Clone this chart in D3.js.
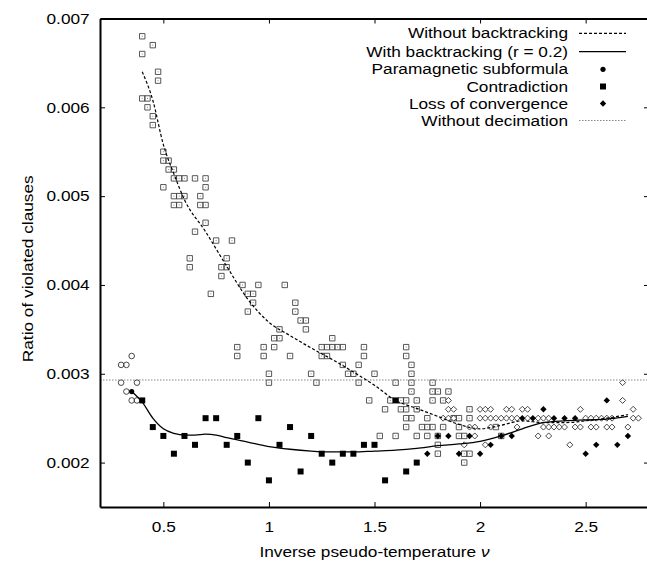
<!DOCTYPE html>
<html>
<head>
<meta charset="utf-8">
<script src="https://cdn.jsdelivr.net/npm/d3@7"></script>
<style>
body { margin: 0; background: #fff; }
text { font-family: "Liberation Sans", Arial, sans-serif; fill: #000; }
</style>
</head>
<body>
<div id="chart"></div>
<script>
// axis ticks
const xTicks = [0.5, 1, 1.5, 2, 2.5];
const yTicks = [0.002, 0.003, 0.004, 0.005, 0.006, 0.007];

const legendLabels = ['Without backtracking', 'With backtracking (r = 0.2)', 'Paramagnetic subformula',
    'Contradiction', 'Loss of convergence', 'Without decimation'];

// runs without backtracking (open markers)
const paraNoBT = [[0.3, 0.0031], [0.325, 0.0031], [0.35, 0.0032], [0.3, 0.0029], [0.375, 0.0029],
    [0.325, 0.0028], [0.35, 0.0027], [0.375, 0.0027]];

const contrNoBT = [
    [0.4, 0.0068], [0.45, 0.0067], [0.4, 0.0066], [0.475, 0.0064], [0.475, 0.0063],
    [0.4, 0.0061], [0.425, 0.0061], [0.425, 0.0060], [0.45, 0.0059], [0.45, 0.0058],
    [0.5, 0.0055], [0.5, 0.0054], [0.525, 0.0054], [0.525, 0.0053], [0.55, 0.0053],
    [0.55, 0.0052], [0.575, 0.0052], [0.6, 0.0052], [0.65, 0.0052], [0.7, 0.0052],
    [0.5, 0.0051], [0.7, 0.0051],
    [0.55, 0.0050], [0.575, 0.0050], [0.6, 0.0050], [0.675, 0.0050],
    [0.55, 0.0049], [0.575, 0.0049], [0.675, 0.0049], [0.7, 0.0049],
    [0.7, 0.0047], [0.65, 0.0046], [0.75, 0.0045], [0.825, 0.0045],
    [0.625, 0.0043], [0.8, 0.0043], [0.625, 0.0042], [0.775, 0.0042], [0.8, 0.0042], [0.775, 0.0041],
    [0.875, 0.0040], [0.95, 0.0040], [1.075, 0.0040],
    [0.725, 0.0039], [0.9, 0.0039], [0.925, 0.0039], [0.925, 0.0038], [1.125, 0.0038],
    [0.9, 0.0037], [1.125, 0.0037], [1.15, 0.0036], [1.175, 0.0036], [1.05, 0.0035], [1.175, 0.0035],
    [1.025, 0.0034], [1.05, 0.0034], [1.3, 0.0034],
    [0.85, 0.0033], [0.975, 0.0033], [1.025, 0.0033], [1.25, 0.0033], [1.275, 0.0033], [1.3, 0.0033],
    [1.325, 0.0033], [1.35, 0.0033], [1.45, 0.0033], [1.65, 0.0033],
    [0.85, 0.0032], [0.975, 0.0032], [1.1, 0.0032], [1.25, 0.0032], [1.275, 0.0032], [1.45, 0.0032], [1.65, 0.0032],
    [1.35, 0.0031], [1.425, 0.0031], [1.675, 0.0031],
    [1.0, 0.0030], [1.2, 0.0030], [1.375, 0.0030], [1.4, 0.0030], [1.5, 0.0030], [1.675, 0.0030],
    [1.0, 0.0029], [1.225, 0.0029], [1.425, 0.0029], [1.6, 0.0029], [1.675, 0.0029], [1.775, 0.0029],
    [1.675, 0.0028], [1.775, 0.0028], [1.8, 0.0028], [1.85, 0.0028],
    [1.475, 0.0027], [1.575, 0.0027], [1.625, 0.0027], [1.65, 0.0027], [1.7, 0.0027], [1.775, 0.0027], [1.825, 0.0027],
    [1.55, 0.0026], [1.625, 0.0026], [1.65, 0.0026], [1.7, 0.0026], [1.95, 0.0026],
    [1.65, 0.0025], [1.675, 0.0025], [1.75, 0.0025], [1.875, 0.0025], [1.9, 0.0025], [1.95, 0.0025],
    [1.65, 0.0024], [1.725, 0.0024], [1.75, 0.0024], [1.775, 0.0024], [1.825, 0.0024], [1.9, 0.0024], [2.075, 0.0024],
    [1.525, 0.0023], [1.6, 0.0023], [1.7, 0.0023], [1.75, 0.0023], [1.8, 0.0023], [1.9, 0.0023], [1.925, 0.0023], [2.1, 0.0023],
    [1.8, 0.0022], [1.8, 0.0021], [1.925, 0.0021], [1.95, 0.0021], [1.925, 0.0020]
];

const lossNoBT = [
    [2.675, 0.0029], [1.85, 0.0027], [2.675, 0.0027],
    [1.85, 0.0026], [1.875, 0.0026], [2.0, 0.0026], [2.025, 0.0026], [2.05, 0.0026], [2.125, 0.0026],
    [2.15, 0.0026], [2.2, 0.0026], [2.225, 0.0026], [2.475, 0.0026], [2.725, 0.0026],
    [1.825, 0.0025], [1.85, 0.0025], [1.875, 0.0025], [2.0, 0.0025], [2.025, 0.0025], [2.05, 0.0025],
    [2.075, 0.0025], [2.1, 0.0025], [2.125, 0.0025], [2.15, 0.0025], [2.175, 0.0025], [2.225, 0.0025],
    [2.275, 0.0025], [2.3, 0.0025], [2.325, 0.0025], [2.5, 0.0025], [2.525, 0.0025], [2.55, 0.0025],
    [2.575, 0.0025], [2.6, 0.0025], [2.625, 0.0025], [2.725, 0.0025], [2.75, 0.0025],
    [1.95, 0.0024], [1.975, 0.0024], [2.05, 0.0024], [2.175, 0.0024], [2.3, 0.0024], [2.325, 0.0024],
    [2.35, 0.0024], [2.375, 0.0024], [2.4, 0.0024], [2.45, 0.0024], [2.475, 0.0024], [2.525, 0.0024],
    [2.55, 0.0024], [2.6, 0.0024], [2.625, 0.0024], [2.7, 0.0024],
    [1.975, 0.0023], [2.275, 0.0023], [2.325, 0.0023],
    [1.925, 0.0022], [2.025, 0.0022], [2.425, 0.0022]
];

// runs with backtracking (filled markers)
const paraBT = [[0.35, 0.0028]];

const contrBT = [
    [0.4, 0.0027], [0.45, 0.0024], [0.5, 0.0023], [0.55, 0.0021], [0.6, 0.0023], [0.65, 0.0022],
    [0.7, 0.0025], [0.75, 0.0025], [0.8, 0.0022], [0.85, 0.0023], [0.9, 0.0020], [0.95, 0.0025],
    [1.0, 0.0018], [1.05, 0.0022], [1.1, 0.0024], [1.15, 0.0019], [1.2, 0.0023], [1.25, 0.0021],
    [1.3, 0.0020], [1.35, 0.0021], [1.4, 0.0021], [1.45, 0.0022], [1.5, 0.0022], [1.55, 0.0018],
    [1.6, 0.0027], [1.65, 0.0019], [1.7, 0.0020]
];

const lossBT = [
    [1.75, 0.0021], [1.8, 0.0023], [1.85, 0.0023], [1.9, 0.0021], [1.95, 0.0023], [2.0, 0.0021],
    [2.05, 0.0022], [2.1, 0.0023], [2.15, 0.0023], [2.2, 0.0025], [2.25, 0.0025], [2.3, 0.0026],
    [2.35, 0.0025], [2.4, 0.0025], [2.45, 0.0025], [2.5, 0.0021], [2.55, 0.0022], [2.6, 0.0027],
    [2.65, 0.0022], [2.7, 0.0023]
];

// smoothed averages
const curveNoBT = [
    [0.4, 0.00640], [0.45, 0.00608], [0.5, 0.00558], [0.55, 0.00525], [0.6, 0.00496], [0.7, 0.00460],
    [0.8, 0.00421], [0.9, 0.00384], [1.0, 0.00358], [1.1, 0.00343], [1.2, 0.00329], [1.3, 0.00316],
    [1.4, 0.00302], [1.5, 0.00287], [1.6, 0.00270], [1.7, 0.00261], [1.8, 0.00252], [1.9, 0.00243],
    [2.0, 0.00238], [2.1, 0.00242], [2.2, 0.00247], [2.3, 0.00245], [2.4, 0.00245], [2.5, 0.00247],
    [2.6, 0.00250], [2.7, 0.00254]
];

const curveBT = [
    [0.35, 0.00280], [0.4, 0.00268], [0.45, 0.00250], [0.5, 0.00238], [0.55, 0.00233], [0.6, 0.00231],
    [0.65, 0.00231], [0.7, 0.00232], [0.75, 0.00231], [0.8, 0.00228], [0.9, 0.00223], [1.0, 0.00218],
    [1.1, 0.00215], [1.2, 0.00213], [1.3, 0.00212], [1.4, 0.00212], [1.5, 0.00213], [1.6, 0.00214],
    [1.7, 0.00216], [1.8, 0.00219], [1.9, 0.00221], [2.0, 0.00224], [2.1, 0.00230], [2.2, 0.00238],
    [2.3, 0.00245], [2.4, 0.00247], [2.5, 0.00248], [2.6, 0.00249], [2.7, 0.00252]
];

const noDecimation = 0.00293;

const width = 647, height = 561;
const plotLeft = 100, plotRight = 649, plotTop = 18.5, plotBottom = 507;
const stretch = 'scale(1.15,1)';

const x = d3.scaleLinear().domain([0.2, 2.8]).range([plotLeft, plotRight]);
const y = d3.scaleLinear().domain([0.0015, 0.007]).range([plotBottom, plotTop]);

const svg = d3.select('#chart').append('svg')
    .attr('width', width)
    .attr('height', height);

// markers
const sq = r => `M${-r},${-r}h${2 * r}v${2 * r}h${-2 * r}z`;
const dia = r => `M0,${-r}L${r},0L0,${r}L${-r},0z`;

const plot = svg.append('g');

plot.selectAll('.osq').data(contrNoBT).enter().append('path')
    .attr('transform', d => `translate(${x(d[0])},${y(d[1])})`)
    .attr('d', sq(2.7))
    .attr('fill', 'none').attr('stroke', '#444').attr('stroke-width', 0.9);
plot.selectAll('.osqdot').data(contrNoBT).enter().append('rect')
    .attr('x', d => x(d[0]) - 0.5).attr('y', d => y(d[1]) - 0.5)
    .attr('width', 1).attr('height', 1).attr('fill', '#888');

plot.selectAll('.ocirc').data(paraNoBT).enter().append('circle')
    .attr('cx', d => x(d[0])).attr('cy', d => y(d[1])).attr('r', 2.8)
    .attr('fill', 'none').attr('stroke', '#333').attr('stroke-width', 0.9);

plot.selectAll('.odia').data(lossNoBT).enter().append('path')
    .attr('transform', d => `translate(${x(d[0])},${y(d[1])})`)
    .attr('d', dia(3))
    .attr('fill', '#fff').attr('stroke', '#333').attr('stroke-width', 0.9);

// without decimation
plot.append('line')
    .attr('x1', plotLeft).attr('x2', plotRight)
    .attr('y1', y(noDecimation)).attr('y2', y(noDecimation))
    .attr('stroke', '#888').attr('stroke-width', 1.2).attr('stroke-dasharray', '1.5,1.5');

const line = d3.line()
    .x(d => x(d[0])).y(d => y(d[1]))
    .curve(d3.curveMonotoneX);

plot.append('path').datum(curveNoBT).attr('d', line)
    .attr('fill', 'none').attr('stroke', '#000').attr('stroke-width', 1.2).attr('stroke-dasharray', '3,2');
plot.append('path').datum(curveBT).attr('d', line)
    .attr('fill', 'none').attr('stroke', '#000').attr('stroke-width', 1.3);

plot.selectAll('.fsq').data(contrBT).enter().append('path')
    .attr('transform', d => `translate(${x(d[0])},${y(d[1])})`)
    .attr('d', sq(3)).attr('fill', '#000');
plot.selectAll('.fdia').data(lossBT).enter().append('path')
    .attr('transform', d => `translate(${x(d[0])},${y(d[1])})`)
    .attr('d', dia(3.2)).attr('fill', '#000');
plot.selectAll('.fcirc').data(paraBT).enter().append('circle')
    .attr('cx', d => x(d[0])).attr('cy', d => y(d[1])).attr('r', 2.6).attr('fill', '#000');

// axes
const axes = svg.append('g');
axes.append('g').attr('transform', `translate(0,${plotBottom})`)
    .call(d3.axisBottom(x).tickValues(xTicks).tickSizeInner(-5).tickSizeOuter(0).tickPadding(14)
        .tickFormat(d3.format('')));
axes.append('g').attr('transform', `translate(0,${plotTop})`)
    .call(d3.axisTop(x).tickValues(xTicks).tickSizeInner(-5).tickSizeOuter(0).tickFormat(''));
axes.append('g').attr('transform', `translate(${plotLeft},0)`)
    .call(d3.axisLeft(y).tickValues(yTicks).tickSizeInner(-5).tickSizeOuter(0).tickPadding(9)
        .tickFormat(d3.format('.3f')));
axes.append('g').attr('transform', `translate(${plotRight},0)`)
    .call(d3.axisRight(y).tickValues(yTicks).tickSizeInner(-5).tickSizeOuter(0).tickFormat(''));

axes.selectAll('.domain').attr('stroke', '#000').attr('stroke-width', 2);
axes.selectAll('.tick line').attr('stroke', '#000').attr('stroke-width', 1);
axes.selectAll('.tick text')
    .attr('font-size', 15)
    .attr('font-family', '"Liberation Sans", Arial, sans-serif')
    .attr('transform', stretch);

svg.append('text')
    .attr('transform', `translate(${(plotLeft + plotRight) / 2},557) ${stretch}`)
    .attr('text-anchor', 'middle').attr('font-size', 15)
    .text('Inverse pseudo-temperature ')
    .append('tspan').attr('font-style', 'italic').text('ν');

svg.append('text')
    .attr('transform', `translate(33,${(plotTop + plotBottom) / 2 + 6}) rotate(-90) ${stretch}`)
    .attr('text-anchor', 'middle').attr('font-size', 15)
    .text('Ratio of violated clauses');

// legend
const legendY = [33.3, 51.7, 69.3, 86.5, 103.5, 120.5];
const lx0 = 579, lx1 = 626, lmid = 603;
const legend = svg.append('g');
legend.selectAll('text').data(legendLabels).enter().append('text')
    .attr('transform', (d, i) => `translate(568,${legendY[i] + 5}) ${stretch}`)
    .attr('text-anchor', 'end').attr('font-size', 15)
    .text(d => d);

legend.append('line').attr('x1', lx0).attr('x2', lx1).attr('y1', legendY[0]).attr('y2', legendY[0])
    .attr('stroke', '#000').attr('stroke-width', 1.2).attr('stroke-dasharray', '3,2');
legend.append('line').attr('x1', lx0).attr('x2', lx1).attr('y1', legendY[1]).attr('y2', legendY[1])
    .attr('stroke', '#000').attr('stroke-width', 1.3);
legend.append('circle').attr('cx', lmid).attr('cy', legendY[2]).attr('r', 2.6).attr('fill', '#000');
legend.append('path').attr('transform', `translate(${lmid},${legendY[3]})`).attr('d', sq(3)).attr('fill', '#000');
legend.append('path').attr('transform', `translate(${lmid},${legendY[4]})`).attr('d', dia(3.2)).attr('fill', '#000');
legend.append('line').attr('x1', lx0).attr('x2', lx1).attr('y1', legendY[5]).attr('y2', legendY[5])
    .attr('stroke', '#888').attr('stroke-width', 1.2).attr('stroke-dasharray', '1.5,1.5');
</script>
</body>
</html>
